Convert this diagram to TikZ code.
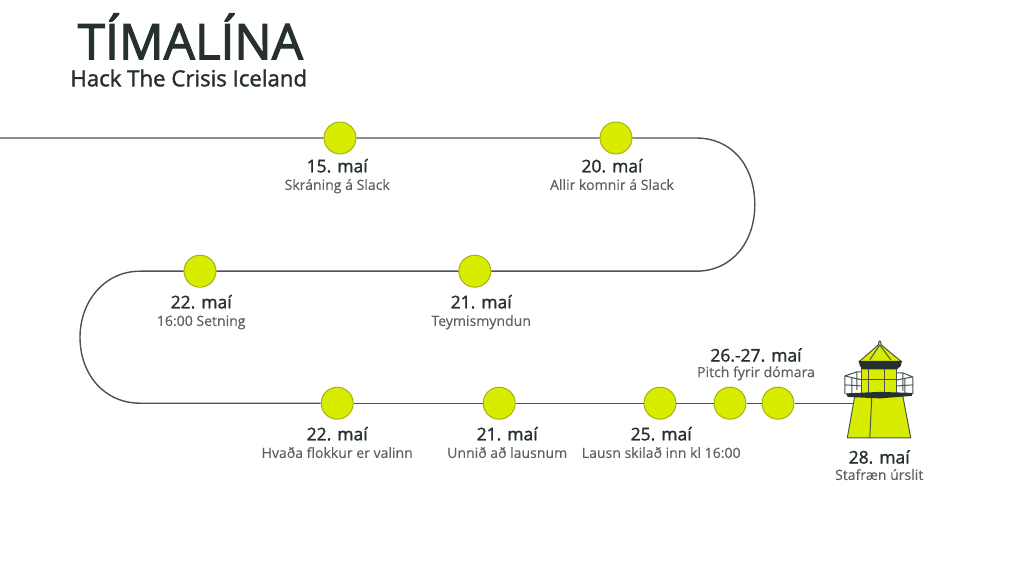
\documentclass[tikz,border=0pt]{standalone}
\usepackage{fontspec}
\setmainfont{Open Sans}
\newfontfamily\titlefont[FakeBold=2.2]{Open Sans}
\newfontfamily\heavyfont[FakeBold=1.6]{Open Sans}
\newfontfamily\midfont[FakeBold=0.3]{Open Sans}
\usepackage{xcolor}
\definecolor{lime}{HTML}{D8EC00}
\definecolor{limeedge}{HTML}{A4B010}
\definecolor{ink}{HTML}{26312F}
\definecolor{subink}{HTML}{5C6261}
\definecolor{track}{HTML}{4A5351}
\tikzset{%
  stopnode/.style={circle,draw=limeedge,fill=lime,line width=0.7pt,minimum size=8mm,inner sep=0pt},
  datenode/.style={align=center,inner sep=0pt,text=ink,text height=0.75em,text depth=0.25em,font=\heavyfont\fontsize{12.4}{12.4}\selectfont},
  notenode/.style={align=center,inner sep=0pt,text=subink,text height=0.75em,text depth=0.25em,font=\midfont\fontsize{10}{10}\selectfont},
  trackline/.style={draw=track,line width=1pt},
  lamp/.style={draw=track,line width=0.7pt,line join=round},
  rail/.style={draw=track,line width=0.7pt,line join=round}
}
\begin{document}
\begin{tikzpicture}
\useasboundingbox (0,0) rectangle (25.6,14.65);

% Title
\node[inner sep=0pt,text=ink,font=\titlefont\fontsize{35.2}{35.2}\selectfont] (title) at (4.76,13.74) {TÍMALÍNA};
\node[inner sep=0pt,text=ink,font=\heavyfont\fontsize{15.8}{15.8}\selectfont] (subtitle) at (4.72,12.7) {Hack The Crisis Iceland};

% Free ends and bends of the line
\coordinate (start) at (0,11.2);
\coordinate (bendA) at (17.4,11.2);
\coordinate (bendB) at (18.87,9.53);
\coordinate (bendC) at (17.4,7.87);
\coordinate (bendD) at (3.5,7.87);
\coordinate (bendE) at (2.0,6.22);
\coordinate (bendF) at (3.5,4.57);

% Stops
\node[stopnode] (may15) at (8.5,11.2) {};
\node[stopnode] (may20) at (15.4,11.2) {};
\node[stopnode] (may21a) at (11.87,7.87) {};
\node[stopnode] (may22a) at (5.0,7.87) {};
\node[stopnode] (may22b) at (8.43,4.57) {};
\node[stopnode] (may21b) at (12.48,4.57) {};
\node[stopnode] (may25) at (16.5,4.57) {};
\node[stopnode] (may26) at (18.25,4.57) {};
\node[stopnode] (may27) at (19.45,4.57) {};
\coordinate (lighthouse) at (21.35,4.57);

% The line
\draw[trackline] (start) -- (may15) (may15) -- (may20) (may20) -- (bendA)
  .. controls (18.3,11.2) and (18.87,10.5) .. (bendB)
  .. controls (18.87,8.6) and (18.3,7.87) .. (bendC) -- (may21a);
\draw[trackline] (may21a) -- (may22a) (may22a) -- (bendD)
  .. controls (2.6,7.87) and (2.0,7.1) .. (bendE)
  .. controls (2.0,5.3) and (2.6,4.57) .. (bendF) -- (may22b);
\draw[trackline] (may22b) -- (may21b) (may21b) -- (may25) (may25) -- (may26) (may26) -- (may27) (may27) -- (lighthouse);

% Labels
\node[datenode] (d15) at (8.43,10.43) {15. maí};
\node[notenode] (t15) at (8.43,9.99) {Skráning á Slack};
\node[datenode] (d20) at (15.3,10.43) {20. maí};
\node[notenode] (t20) at (15.3,9.99) {Allir komnir á Slack};
\node[datenode] (d21a) at (12.03,7.03) {21. maí};
\node[notenode] (t21a) at (12.03,6.59) {Teymismyndun};
\node[datenode] (d22a) at (5.03,7.03) {22. maí};
\node[notenode] (t22a) at (5.03,6.59) {16:00 Setning};
\node[datenode] (d22b) at (8.43,3.73) {22. maí};
\node[notenode] (t22b) at (8.43,3.29) {Hvaða flokkur er valinn};
\node[datenode] (d21b) at (12.68,3.73) {21. maí};
\node[notenode] (t21b) at (12.68,3.29) {Unnið að lausnum};
\node[datenode] (d25) at (16.53,3.73) {25. maí};
\node[notenode] (t25) at (16.53,3.29) {Lausn skilað inn kl 16:00};
\node[datenode] (d26) at (18.9,5.7) {26.-27. maí};
\node[notenode] (t26) at (18.9,5.31) {Pitch fyrir dómara};
\node[datenode] (d28) at (21.98,3.15) {28. maí};
\node[notenode] (t28) at (21.98,2.74) {Stafræn úrslit};

% Lighthouse, in pixels of the sheet
\begin{scope}[shift={(0cm,14.65cm)},x=0.025cm,y=-0.025cm]
  % back rail
  \draw[rail] (857,372) -- (903,373);
  % upper room
  \fill[lime] (862,366) rectangle (897,393);
  \draw[lamp] (862,366) -- (862,393) (897,366) -- (897,393)
    (869,367) -- (869,393) (885,367) -- (885,393)
    (862,380) -- (897,380);
  % roof
  \draw[lamp,fill=lime] (859,362) -- (878.5,345) .. controls (878.8,342) and (879.5,341) .. (880,341)
    .. controls (880.5,341) and (881.2,342) .. (881.5,345) -- (902,362) -- cycle;
  \draw[lamp] (880,345) -- (870,360) (880,345) -- (891,360);
  % dark band
  \fill[ink] (859,361) -- (902,361) -- (901,366) -- (897,369.5) -- (863,369.5) -- (860,366) -- cycle;
  % tower
  \draw[lamp,fill=lime] (855,396) -- (903,396) -- (911,438) -- (847.5,438) -- cycle;
  \draw[lamp] (872,397) -- (870,438);
  % gallery floor
  \fill[ink] (846,393.5) -- (880,392) -- (913,393) -- (912,396) -- (880,398.5) -- (848,397) -- cycle;
  % front rail
  \draw[rail] (845,376) -- (857,372) -- (857,390) (903,373) -- (913,377)
    (845,376) -- (862,380) (897,380) -- (913,377)
    (845,376) -- (845,394) (913,377) -- (913,394)
    (852,378) -- (852,393.5) (905,378) -- (905,393.5)
    (845,385) -- (862,386) (897,386) -- (913,385) (903,373) -- (903,391);
\end{scope}

\end{tikzpicture}
\end{document}
